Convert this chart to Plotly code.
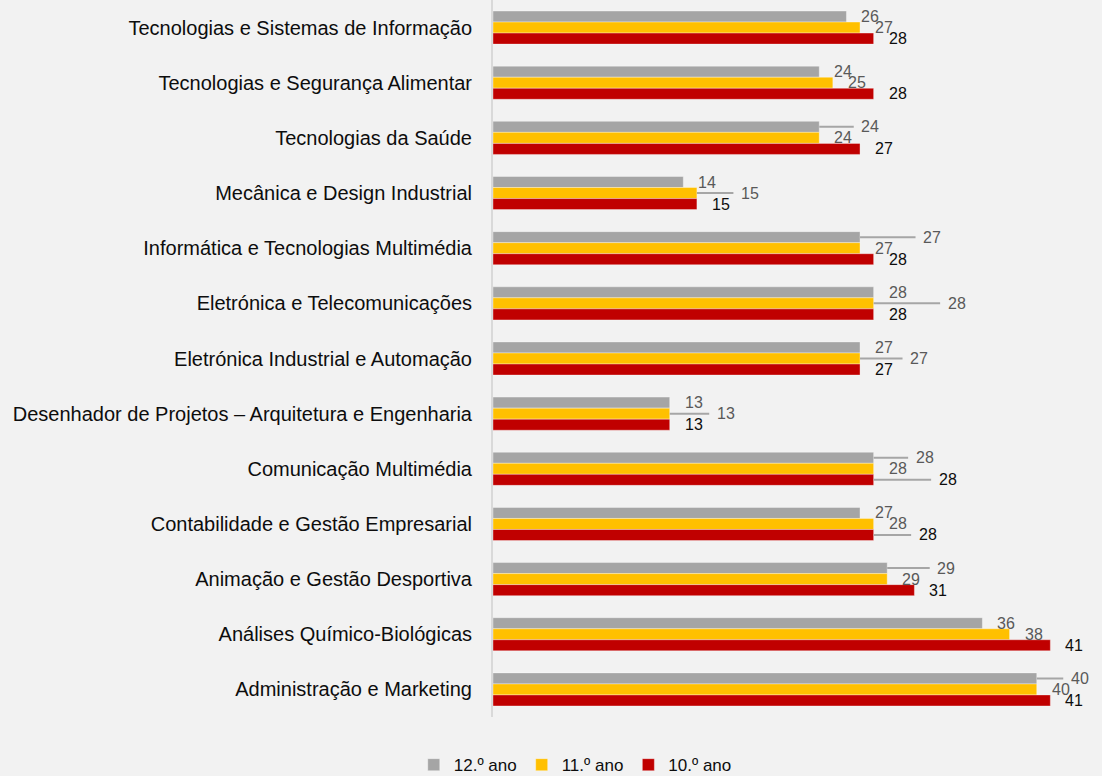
import plotly.graph_objects as go

categories = [
    "Tecnologias e Sistemas de Informação",
    "Tecnologias e Segurança Alimentar",
    "Tecnologias da Saúde",
    "Mecânica e Design Industrial",
    "Informática e Tecnologias Multimédia",
    "Eletrónica e Telecomunicações",
    "Eletrónica Industrial e Automação",
    "Desenhador de Projetos – Arquitetura e Engenharia",
    "Comunicação Multimédia",
    "Contabilidade e Gestão Empresarial",
    "Animação e Gestão Desportiva",
    "Análises Químico-Biológicas",
    "Administração e Marketing",
]
series_names = ["12.º ano", "11.º ano", "10.º ano"]
values_12 = [26, 24, 24, 14, 27, 28, 27, 13, 28, 27, 29, 36, 40]
values_11 = [27, 25, 24, 15, 27, 28, 27, 13, 28, 28, 29, 38, 40]
values_10 = [28, 28, 27, 15, 28, 28, 27, 13, 28, 28, 31, 41, 41]

# styling / layout (not data)
colors = ["#A5A5A5", "#FFC000", "#C00000"]
label_colors = ["#595959", "#595959", "#0D0D0D"]
FONT = "Liberation Sans, Arial, sans-serif"
W, H = 1102, 776
M_L, M_R, M_T, M_B = 493, 0, 0, 59
BARGAP = 0.4
# label placement: default pixel offset from bar end, and leader-line labels
DEFAULT_DX = 24
leader_dx = {
    (0, 2): 51, (1, 3): 53, (0, 4): 72, (1, 5): 83, (1, 6): 59,
    (1, 7): 56, (0, 8): 51, (2, 8): 74, (2, 9): 54, (0, 10): 59, (0, 12): 43,
}

all_values = [values_12, values_11, values_10]

fig = go.Figure()
for name, vals, col in zip(series_names, all_values, colors):
    fig.add_trace(go.Bar(
        y=categories, x=vals, name=name, orientation="h",
        marker=dict(color=col, line=dict(color="rgba(255,255,255,0.35)", width=1)),
        hoverinfo="x+y+name",
    ))

plot_h = H - M_T - M_B
band = plot_h / len(categories)
bar_px = band * (1 - BARGAP) / 3
shifts = [bar_px, 0, -bar_px]

annotations = []
for s, vals in enumerate(all_values):
    for i, (cat, v) in enumerate(zip(categories, vals)):
        base = dict(x=v, y=cat, xref="x", yref="y", text=str(v),
                    font=dict(family=FONT, size=16, color=label_colors[s]),
                    yshift=shifts[s], xanchor="center", yanchor="middle")
        if (s, i) in leader_dx:
            base.update(showarrow=True, ax=leader_dx[(s, i)], ay=0,
                        arrowhead=0, arrowwidth=2, arrowcolor="#A6A6A6",
                        standoff=0, borderpad=7)
        else:
            base.update(showarrow=False, xshift=DEFAULT_DX)
        annotations.append(base)

fig.update_layout(
    width=W, height=H,
    margin=dict(l=M_L, r=M_R, t=M_T, b=M_B, autoexpand=False),
    paper_bgcolor="#F2F2F2", plot_bgcolor="#F2F2F2",
    barmode="group", bargap=BARGAP, bargroupgap=0,
    font=dict(family=FONT, color="#0D0D0D"),
    xaxis=dict(visible=False, range=[0, 44.8], fixedrange=True),
    yaxis=dict(type="category", autorange="reversed", showgrid=False,
               showline=True, linecolor="#D9D9D9", linewidth=2,
               ticks="", ticklabelstandoff=15, automargin=False,
               tickfont=dict(family=FONT, size=20, color="#0D0D0D")),
    legend=dict(orientation="h", xref="container", yref="container",
                x=0.522, y=0.014, xanchor="center", yanchor="middle",
                font=dict(family=FONT, size=17, color="#0D0D0D"),
                traceorder="normal", itemwidth=30),
    annotations=annotations,
    showlegend=True,
)

fig.write_html(
    "out.html",
    config={"displayModeBar": False},
    post_script="document.body.style.margin='0';document.body.style.background='#F2F2F2';",
)
